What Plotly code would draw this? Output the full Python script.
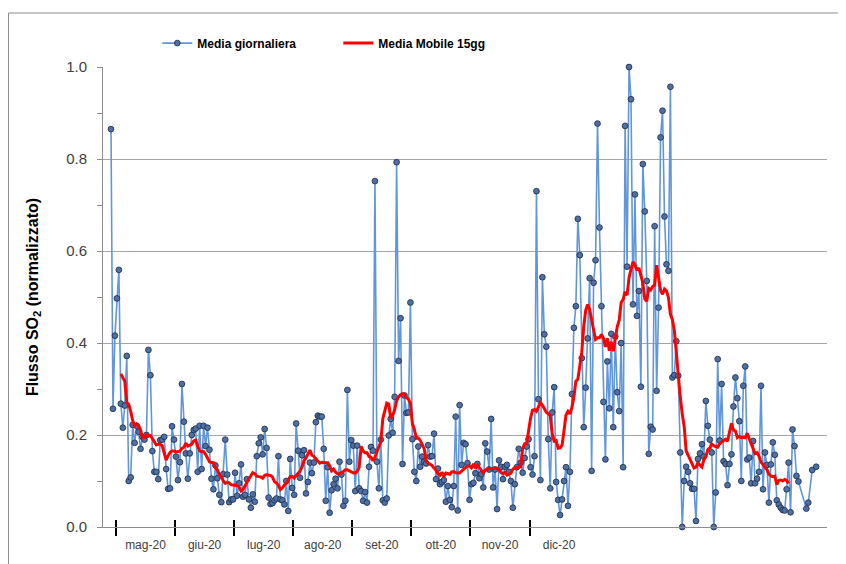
import pandas as pd
import plotly.graph_objects as go

# month labels under the x axis
MONTHS = ["mag-20", "giu-20", "lug-20", "ago-20", "set-20", "ott-20", "nov-20", "dic-20"]

# daily normalised SO2 flux (None = no measurement)
SO2_DAILY = [
    0.865, 0.257, 0.416, 0.497, 0.559, 0.268, 0.216, 0.264, 0.372, 0.100,
    0.108, 0.222, 0.183, 0.220, 0.207, 0.170, 0.196, 0.190, 0.200, 0.385,
    0.330, 0.165, 0.120, 0.120, 0.104, 0.189, 0.190, 0.196, 0.126, 0.083,
    0.084, 0.219, 0.190, 0.153, 0.102, 0.141, 0.311, 0.229, 0.160, 0.105,
    0.160, 0.200, 0.211, 0.214, 0.120, 0.220, 0.126, 0.220, 0.176, 0.216,
    0.168, 0.105, 0.082, 0.134, 0.106, 0.070, 0.054, 0.115, 0.190, 0.114,
    0.054, 0.060, 0.060, 0.118, 0.068, 0.095, 0.136, 0.066, 0.070, 0.104,
    0.060, 0.042, 0.071, 0.055, 0.154, 0.182, 0.195, 0.158, 0.213, 0.172,
    0.064, 0.050, 0.052, 0.058, 0.062, 0.154, 0.060, 0.058, 0.049, 0.100,
    0.035, 0.148, 0.085, 0.070, 0.225, 0.166, 0.107, 0.156, 0.167, 0.073,
    0.098, 0.140, 0.117, 0.140, 0.228, 0.242, 0.240, 0.240, 0.170, 0.057,
    0.130, 0.031, 0.080, 0.093, 0.105, 0.084, 0.142, 0.114, 0.046, 0.057,
    0.298, 0.142, 0.189, 0.177, 0.078, 0.177, 0.084, 0.078, 0.057, 0.076,
    0.053, 0.131, 0.174, 0.166, 0.752, 0.142, 0.084, 0.190, 0.058, 0.053,
    0.062, 0.199, 0.235, 0.205, 0.283, 0.793, 0.361, 0.454, 0.137, 0.286,
    0.248, 0.249, 0.488, 0.191, 0.120, 0.100, 0.175, 0.131, 0.153, 0.142,
    0.138, 0.178, 0.153, 0.154, 0.203, 0.104, 0.127, 0.093, 0.098, 0.102,
    0.055, 0.089, 0.059, 0.043, 0.089, 0.240, 0.036, 0.265, 0.135, 0.183,
    0.180, 0.139, 0.059, 0.093, 0.096, 0.117, 0.137, 0.106, 0.115, 0.086,
    0.182, 0.164, 0.125, 0.235, 0.086, 0.125, 0.039, 0.145, 0.131, 0.104,
    0.131, 0.135, 0.120, 0.100, 0.042, 0.093, 0.130, 0.170, 0.140, 0.118,
    0.150, 0.175, 0.191, 0.130, 0.114, 0.154, 0.730, 0.278, 0.102, 0.543,
    0.419, 0.392, 0.191, 0.084, 0.249, 0.304, 0.098, 0.059, 0.026, 0.060,
    0.100, 0.130, 0.046, 0.120, 0.289, 0.433, 0.480, 0.670, 0.591, 0.367,
    0.217, 0.303, 0.410, 0.541, 0.122, 0.531, 0.580, 0.877, 0.651, 0.480,
    0.272, 0.147, 0.360, 0.258, 0.420, 0.217, 0.414, 0.293, 0.252, 0.400,
    0.130, 0.872, 0.566, 1.000, 0.930, 0.484, 0.723, 0.459, 0.513, 0.305,
    0.789, 0.686, 0.535, 0.159, 0.218, 0.212, 0.654, 0.296, 0.477, 0.847,
    0.905, 0.675, 0.571, 0.557, 0.957, 0.325, 0.330, 0.404, 0.329, 0.162,
    0.000, 0.100, 0.131, 0.120, 0.095, 0.083, 0.083, 0.013, 0.148, 0.160,
    0.180, 0.153, 0.274, 0.220, 0.190, 0.162, 0.000, 0.075, 0.365, 0.188,
    0.311, 0.143, 0.137, 0.091, 0.137, 0.158, 0.262, 0.325, 0.280, 0.230,
    0.100, 0.307, 0.349, 0.147, 0.151, 0.095, 0.187, 0.095, 0.105, 0.120,
    0.307, 0.082, 0.162, 0.135, 0.053, 0.136, 0.184, 0.157, 0.058, 0.049,
    0.042, 0.037, 0.036, 0.082, 0.140, 0.032, 0.212, 0.176, 0.111, 0.099,
    None, None, None, 0.040, 0.053, None, 0.124, None, 0.131,
]

days = list(range(len(SO2_DAILY)))

# 15 day centred moving average
media_mobile = pd.Series(SO2_DAILY, dtype=float).rolling(15, center=True, min_periods=13).mean()

# month boundaries every 30 days, labels in the middle
month_edges = [2.5 + 30 * k for k in range(len(MONTHS))]
month_mids = [e + 15 for e in month_edges]
x_range = [-4.06, 363.5]

fig = go.Figure()

fig.add_trace(go.Scatter(
    x=days, y=SO2_DAILY,
    mode="lines+markers",
    name="Media giornaliera",
    connectgaps=True,
    cliponaxis=False,
    line=dict(color="#6196DA", width=1.6),
    marker=dict(size=5.8, color="#4E70A4", line=dict(color="#1C2A44", width=0.8)),
))

fig.add_trace(go.Scatter(
    x=days, y=media_mobile,
    mode="lines",
    name="Media Mobile 15gg",
    cliponaxis=False,
    line=dict(color="#FF0000", width=3),
))

# empty traces so the overlay axes (month tick marks) get drawn
for ax in ["x2", "x3"]:
    fig.add_trace(go.Scatter(x=[None], y=[None], xaxis=ax, yaxis="y",
                             showlegend=False, hoverinfo="skip"))

axis_grey = "#8C8C8C"

fig.update_layout(
    width=838,
    height=556,
    margin=dict(l=95, r=19, t=59, b=37, autoexpand=False),
    paper_bgcolor="white",
    plot_bgcolor="white",
    showlegend=True,
    legend=dict(
        orientation="h",
        x=0.075, y=1.052,
        xanchor="left", yanchor="middle",
        entrywidth=136,
        font=dict(family="Arial", size=12, color="black", weight="bold"),
        bgcolor="rgba(0,0,0,0)",
    ),
    xaxis=dict(
        range=x_range,
        tickvals=month_mids,
        ticktext=MONTHS,
        ticks="outside",
        ticklen=7,
        tickcolor="rgba(0,0,0,0)",
        showline=True,
        linecolor=axis_grey,
        linewidth=1,
        showgrid=False,
        zeroline=False,
        tickfont=dict(family="Arial", size=12, color="#404040"),
    ),
    xaxis2=dict(
        overlaying="x", anchor="y", side="bottom",
        range=x_range,
        tickvals=month_edges,
        ticks="outside", ticklen=8, tickwidth=2, tickcolor="black",
        showticklabels=False, showgrid=False, showline=False, zeroline=False,
    ),
    xaxis3=dict(
        overlaying="x", anchor="y", side="bottom",
        range=x_range,
        tickvals=month_edges,
        ticks="inside", ticklen=7, tickwidth=2, tickcolor="black",
        showticklabels=False, showgrid=False, showline=False, zeroline=False,
    ),
    yaxis=dict(
        range=[0, 1.0],
        tick0=0, dtick=0.2,
        tickformat=".1f",
        ticks="outside", ticklen=5, tickcolor=axis_grey,
        ticklabelstandoff=7,
        showline=True, linecolor=axis_grey,
        showgrid=True, gridcolor="#A6A6A6", gridwidth=1,
        zeroline=False,
        minor=dict(dtick=0.1, ticks="outside", ticklen=5, tickcolor=axis_grey, showgrid=False),
        tickfont=dict(family="Arial", size=15, color="#404040"),
        title=dict(
            text="<b>Flusso SO<sub>2</sub> (normalizzato)</b>",
            font=dict(family="Arial", size=16, color="black"),
            standoff=23,
        ),
    ),
)

# outer chart frame (only left and top edges fall inside the picture)
fig.add_shape(
    type="rect", xref="paper", yref="paper",
    x0=-0.1305, x1=1.2, y0=-0.3, y1=1.1174,
    line=dict(color=axis_grey, width=1),
    layer="below",
)

fig.write_html("out.html")
